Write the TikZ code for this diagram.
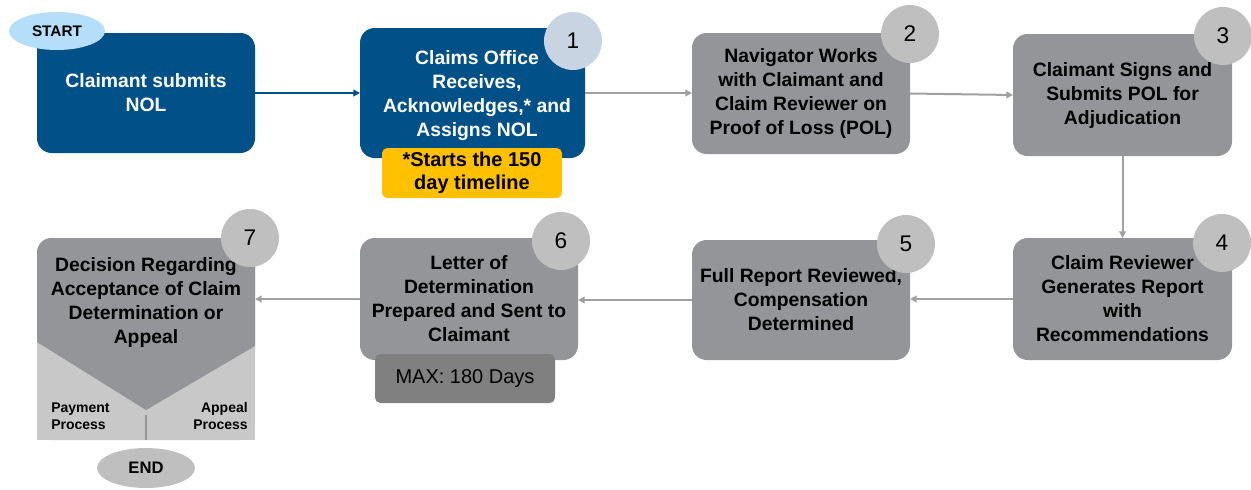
\documentclass[tikz,border=0pt]{standalone}
\usepackage{fontspec}
\setmainfont{Liberation Sans}
\usetikzlibrary{arrows.meta,shapes.geometric}
\definecolor{navy}{RGB}{2,80,136}
\definecolor{boxgray}{RGB}{147,149,152}
\definecolor{circgray}{RGB}{191,191,191}
\definecolor{circblue}{RGB}{200,212,225}
\definecolor{startblue}{RGB}{180,222,250}
\definecolor{ambery}{RGB}{255,192,0}
\definecolor{maxgray}{RGB}{128,128,128}
\definecolor{lightgray7}{RGB}{200,200,200}
\definecolor{arrgray}{RGB}{160,160,160}
\definecolor{tickgray}{RGB}{150,150,150}
\begin{document}
\begin{tikzpicture}[x=0.75pt,y=-0.75pt,
  boxfont/.style={font=\bfseries\fontsize{14.5}{18}\selectfont},
  stepbox/.style={rectangle, rounded corners=11pt, minimum width=163.5pt, minimum height=90pt,
    align=center, inner sep=0pt, outer sep=0pt, boxfont},
  bluebox/.style={stepbox, fill=navy, text=white},
  graybox/.style={stepbox, fill=boxgray, text=black},
  num/.style={circle, minimum size=43.5pt, inner sep=0pt, font=\fontsize{17}{18}\selectfont},
  tag/.style={rectangle, rounded corners=4pt, align=center, inner sep=0pt, outer sep=0pt},
  oval/.style={ellipse, inner sep=0pt, font=\bfseries\fontsize{11.5}{13}\selectfont},
  arr/.style={draw=arrgray, line width=1.5pt, -{Triangle[length=5pt,width=5pt]}},
  arrblue/.style={draw=navy, line width=1.5pt, -{Triangle[length=5pt,width=5pt]}},
  small/.style={font=\bfseries\fontsize{10.5}{12.75}\selectfont, inner sep=0pt}
]
\useasboundingbox (0,0) rectangle (1251,489);

% top row
\node[bluebox] (A) at (146,93) {Claimant submits\\NOL};
\node[bluebox, minimum width=168.75pt, minimum height=97.5pt] (B1) at (472.5,93) {};
\node[boxfont, align=center, text=white, inner sep=0pt] (T1) at (477,96)
  {Claims Office\\Receives,\\Acknowledges,* and\\Assigns NOL};
\node[graybox, minimum height=90.75pt] (B2) at (801,93.5)
  {Navigator Works\\with Claimant and\\Claim Reviewer on\\Proof of Loss (POL)};
\node[graybox, minimum width=164.25pt, minimum height=91.5pt] (B3) at (1122.5,95)
  {Claimant Signs and\\Submits POL for\\Adjudication};

% bottom row
\node[graybox, minimum width=164.25pt, minimum height=91.5pt] (B4) at (1122.5,299)
  {Claim Reviewer\\Generates Report\\with\\Recommendations};
\node[graybox] (B5) at (801,300)
  {Full Report Reviewed,\\Compensation\\Determined};
\node[graybox, minimum height=91.5pt] (B6) at (469,299)
  {Letter of\\Determination\\Prepared and Sent to\\Claimant};

% box 7
\node[rectangle, minimum width=163.5pt, minimum height=151.5pt, inner sep=0pt, outer sep=0pt] (B7) at (146,339) {};
\fill[lightgray7, rounded corners=11pt] (B7.north west) rectangle (B7.south east);
\fill[lightgray7] (B7.west) rectangle (B7.south east);
\fill[boxgray] (37,342) [rounded corners=11pt] -- (37,238) -- (255,238) [sharp corners] -- (255,346) -- (146,410) -- cycle;
\node[align=center, inner sep=0pt, boxfont] (T7) at (146,302)
  {Decision Regarding\\Acceptance of Claim\\Determination or\\Appeal};
\node[small, align=left, anchor=west] (pay) at (51,416) {Payment\\Process};
\node[small, align=right, anchor=east] (app) at (248,416) {Appeal\\Process};
\coordinate (vtip) at (146,415);
\coordinate (vbot) at (146,440);
\draw[tickgray, line width=1.5pt] (vtip) -- (vbot);

% tags
\node[tag, fill=ambery, minimum width=135pt, minimum height=37.5pt,
  font=\bfseries\fontsize{15}{17.5}\selectfont] (Y) at (472,173) {*Starts the 150\\day timeline};
\node[tag, fill=maxgray, minimum width=135pt, minimum height=36.75pt,
  font=\fontsize{15}{16}\selectfont] (MAX) at (465,378.5) {MAX: 180 Days};

% ovals
\node[oval, fill=startblue, minimum width=72pt, minimum height=28.5pt] (S) at (57,31) {START};
\node[oval, fill=circgray, minimum width=73.5pt, minimum height=30pt,
  font=\bfseries\fontsize{12.5}{13}\selectfont] (E) at (146,468) {END};

% number circles
\node[num, fill=circblue] (n1) at (573,41) {1};
\node[num, fill=circgray] (n2) at (910,34) {2};
\node[num, fill=circgray] (n3) at (1223,36) {3};
\node[num, fill=circgray] (n4) at (1222,243) {4};
\node[num, fill=circgray] (n5) at (906,244) {5};
\node[num, fill=circgray] (n6) at (561,241) {6};
\node[num, fill=circgray] (n7) at (250,238) {7};

% connectors
\draw[arrblue] (A.east) -- (A.east -| B1.west);
\draw[arr] (B1.east) -- (B1.east -| B2.west);
\draw[arr] (B2.east) -- (B3.west);
\draw[arr] (B3.south) -- (B4.north);
\draw[arr] (B4.west) -- (B4.west -| B5.east);
\draw[arr] (B5.west) -- (B5.west -| B6.east);
\draw[arr] (B6.west) -- (B6.west -| B7.east);
\end{tikzpicture}
\end{document}
